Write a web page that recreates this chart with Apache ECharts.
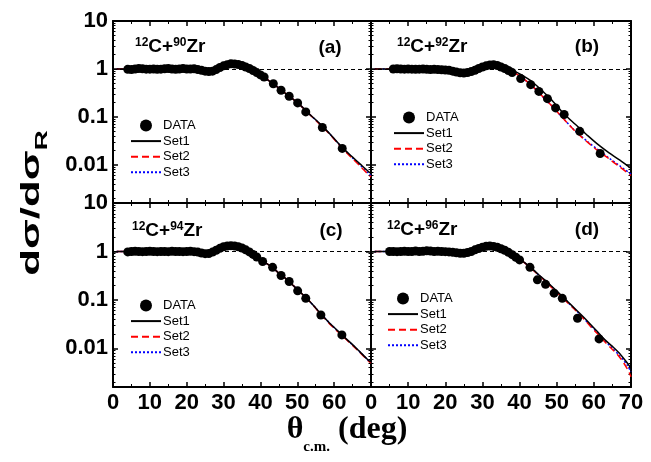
<!DOCTYPE html>
<html>
<head>
<meta charset="utf-8">
<script src="https://cdn.jsdelivr.net/npm/echarts@6/dist/echarts.min.js"></script>
<style>
html,body{margin:0;padding:0;background:#fff}
#main{width:651px;height:462px}
</style>
</head>
<body>
<div id="main"></div>
<script>
var chart = echarts.init(document.getElementById('main'));

var seriesNames = ['DATA', 'Set1', 'Set2', 'Set3'];
var panelLabels = ['(a)', '(b)', '(c)', '(d)'];
var targets = ['90', '92', '94', '96'];
var xTicks = [0, 10, 20, 30, 40, 50, 60, 70];
var yTicks = [0.01, 0.1, 1, 10];

// panel (a) 12C+90Zr
var data_a = [[4,0.98],[5,0.97],[6,1.0],[7,1.02],[8,1.01],[9,0.99],[10,0.99],[11,1.0],[12,0.98],[13,0.99],[14,1.01],[15,1.02],[16,1.0],[17,0.98],[18,1.0],[19,1.02],[20,1.0],[21,1.0],[22,1.01],[23,0.97],[24,0.94],[25,0.9],[26,0.88],[27,0.9],[28,0.97],[29,1.07],[30,1.16],[31,1.23],[32,1.28],[33,1.27],[34,1.24],[35,1.18],[36,1.1],[37,1.02],[38,0.93],[39,0.84],[40,0.75],[41,0.68],[43.5,0.49],[45.6,0.36],[47.8,0.27],[50.1,0.196],[52.3,0.127],[56.8,0.06],[62.2,0.022]];
var set1_a = [[1,1.0],[5,1.0],[10,0.99],[15,1.0],[20,1.0],[23,0.97],[25,0.91],[27,0.88],[29,1.03],[31,1.22],[33,1.28],[35,1.19],[37,1.02],[39,0.85],[41,0.67],[43,0.52],[45,0.4],[47,0.3],[49,0.23],[51,0.17],[53,0.12],[55,0.087],[57,0.062],[59,0.043],[61,0.029],[63,0.02],[65,0.0145],[67,0.0105],[69,0.0076],[70,0.0066]];
var set2_a = [[1,1.0],[5,1.0],[10,0.99],[15,1.0],[20,1.0],[23,0.97],[25,0.91],[27,0.88],[29,1.03],[31,1.22],[33,1.28],[35,1.19],[37,1.02],[39,0.85],[41,0.67],[43,0.52],[45,0.4],[47,0.3],[49,0.23],[51,0.17],[53,0.12],[55,0.085],[57,0.06],[59,0.042],[61,0.028],[63,0.019],[65,0.0135],[67,0.0095],[69,0.0066],[70,0.0056]];
var set3_a = [[1,1.0],[5,1.0],[10,0.99],[15,1.0],[20,1.0],[23,0.97],[25,0.91],[27,0.88],[29,1.03],[31,1.22],[33,1.28],[35,1.19],[37,1.02],[39,0.85],[41,0.67],[43,0.52],[45,0.4],[47,0.3],[49,0.23],[51,0.17],[53,0.12],[55,0.086],[57,0.061],[59,0.0425],[61,0.0285],[63,0.0195],[65,0.014],[67,0.01],[69,0.007],[70,0.006]];

// panel (b) 12C+92Zr
var data_b = [[6,1.0],[7,1.01],[8,1.0],[9,0.99],[10,1.0],[11,0.99],[12,0.98],[13,0.99],[14,1.0],[15,0.98],[16,0.97],[17,0.98],[18,0.97],[19,0.96],[20,0.95],[21,0.94],[22,0.9],[23,0.86],[24,0.83],[25,0.82],[26,0.84],[27,0.88],[28,0.94],[29,1.02],[30,1.1],[31,1.16],[32,1.21],[33,1.22],[34,1.18],[35,1.1],[36,1.02],[37,0.93],[38,0.84],[40.3,0.63],[43,0.47],[45.2,0.34],[47.5,0.24],[49.7,0.154],[52,0.112],[56.2,0.05],[61.7,0.0172]];
var set1_b = [[1,1.0],[5,1.0],[10,1.0],[15,0.98],[18,0.96],[21,0.92],[23,0.86],[25,0.82],[27,0.87],[29,1.0],[31,1.18],[33,1.27],[35,1.2],[37,1.03],[39,0.87],[41,0.72],[43,0.57],[45,0.42],[47,0.3],[49,0.21],[52,0.115],[55,0.07],[58,0.043],[61,0.027],[64,0.018],[67,0.0125],[70,0.0084]];
var set2_b = [[1,1.0],[5,1.0],[10,1.0],[15,0.98],[18,0.96],[21,0.92],[23,0.86],[25,0.82],[27,0.87],[29,1.0],[31,1.17],[33,1.24],[35,1.17],[37,0.98],[39,0.8],[41,0.63],[43,0.47],[45,0.33],[47,0.23],[49,0.16],[52,0.088],[55,0.05],[58,0.031],[61,0.02],[64,0.0135],[67,0.009],[70,0.006]];
var set3_b = [[1,1.0],[5,1.0],[10,1.0],[15,0.98],[18,0.96],[21,0.92],[23,0.86],[25,0.82],[27,0.87],[29,1.0],[31,1.17],[33,1.24],[35,1.17],[37,0.98],[39,0.8],[41,0.63],[43,0.47],[45,0.33],[47,0.23],[49,0.16],[52,0.089],[55,0.051],[58,0.032],[61,0.021],[64,0.014],[67,0.0095],[70,0.0064]];

// panel (c) 12C+94Zr
var data_c = [[4,0.98],[5,1.0],[6,1.01],[7,1.0],[8,0.99],[9,1.0],[10,1.01],[11,1.0],[12,0.99],[13,1.0],[14,1.0],[15,0.99],[16,1.01],[17,1.0],[18,1.0],[19,0.99],[20,1.0],[21,1.01],[22,0.99],[23,0.97],[24,0.93],[25,0.9],[26,0.91],[27,0.97],[28,1.06],[29,1.16],[30,1.25],[31,1.3],[32,1.32],[33,1.3],[34,1.25],[35,1.18],[36,1.08],[37,0.98],[38,0.87],[39,0.77],[40.6,0.62],[43.3,0.47],[45.6,0.32],[47.8,0.24],[50.1,0.154],[52.3,0.108],[56.4,0.049],[62.1,0.019]];
var set1_c = [[1,1.0],[5,1.0],[10,1.0],[15,1.0],[20,1.0],[23,0.97],[25,0.9],[27,0.95],[29,1.15],[31,1.3],[33,1.3],[35,1.18],[37,0.99],[39,0.79],[41,0.61],[43,0.48],[45,0.36],[47,0.27],[49,0.195],[51,0.14],[53,0.1],[55,0.068],[57,0.046],[59,0.032],[61,0.023],[63,0.0165],[65,0.012],[67,0.0085],[69,0.006],[70,0.0052]];
var set2_c = [[1,1.0],[5,1.0],[10,1.0],[15,1.0],[20,1.0],[23,0.97],[25,0.9],[27,0.95],[29,1.15],[31,1.3],[33,1.3],[35,1.18],[37,0.99],[39,0.79],[41,0.61],[43,0.48],[45,0.36],[47,0.27],[49,0.195],[51,0.14],[53,0.1],[55,0.067],[57,0.045],[59,0.031],[61,0.022],[63,0.016],[65,0.0115],[67,0.0082],[69,0.0058],[70,0.005]];
var set3_c = [[1,1.0],[5,1.0],[10,1.0],[15,1.0],[20,1.0],[23,0.97],[25,0.9],[27,0.95],[29,1.15],[31,1.3],[33,1.3],[35,1.18],[37,0.99],[39,0.79],[41,0.61],[43,0.48],[45,0.36],[47,0.27],[49,0.195],[51,0.14],[53,0.1],[55,0.068],[57,0.046],[59,0.032],[61,0.0225],[63,0.0162],[65,0.0118],[67,0.0084],[69,0.0059],[70,0.0051]];

// panel (d) 12C+96Zr
var data_d = [[5,1.0],[6,1.0],[7,0.99],[8,1.0],[9,1.01],[10,1.0],[11,1.0],[12,1.02],[13,1.0],[14,1.01],[15,1.03],[16,1.02],[17,1.0],[18,1.01],[19,1.0],[20,0.99],[21,0.98],[22,0.96],[23,0.94],[24,0.92],[25,0.92],[26,0.95],[27,1.0],[28,1.08],[29,1.15],[30,1.22],[31,1.28],[32,1.3],[33,1.27],[34,1.22],[35,1.14],[36,1.06],[37,0.96],[38,0.86],[39,0.76],[40,0.67],[42.8,0.47],[44.8,0.26],[47,0.21],[49.3,0.138],[51.5,0.108],[55.6,0.042],[61.4,0.0157]];
var set1_d = [[1,1.0],[5,1.0],[10,1.0],[15,1.01],[20,0.99],[23,0.95],[25,0.92],[27,0.99],[29,1.15],[31,1.3],[33,1.3],[35,1.17],[37,0.98],[39,0.79],[41,0.62],[43,0.47],[45,0.34],[47,0.25],[49,0.18],[51,0.13],[53,0.092],[55,0.065],[57,0.046],[59,0.032],[61,0.022],[63,0.015],[65,0.011],[67,0.0078],[69,0.005],[70,0.0039]];
var set2_d = [[1,1.0],[5,1.0],[10,1.0],[15,1.01],[20,0.99],[23,0.95],[25,0.92],[27,0.99],[29,1.15],[31,1.3],[33,1.3],[35,1.17],[37,0.98],[39,0.79],[41,0.61],[43,0.46],[45,0.33],[47,0.24],[49,0.17],[51,0.122],[53,0.087],[55,0.062],[57,0.043],[59,0.029],[61,0.02],[63,0.0135],[65,0.0095],[67,0.0065],[69,0.0038],[70,0.0026]];
var set3_d = [[1,1.0],[5,1.0],[10,1.0],[15,1.01],[20,0.99],[23,0.95],[25,0.92],[27,0.99],[29,1.15],[31,1.3],[33,1.3],[35,1.17],[37,0.98],[39,0.79],[41,0.61],[43,0.465],[45,0.335],[47,0.245],[49,0.175],[51,0.125],[53,0.089],[55,0.063],[57,0.044],[59,0.03],[61,0.021],[63,0.0145],[65,0.01],[67,0.007],[69,0.0045],[70,0.0033]];

var panels = [
  [data_a, set1_a, set2_a, set3_a],
  [data_b, set1_b, set2_b, set3_b],
  [data_c, set1_c, set2_c, set3_c],
  [data_d, set1_d, set2_d, set3_d]
];

var grids = [
  {left: 113, top: 21, width: 258, height: 182},
  {left: 371, top: 21, width: 260, height: 182},
  {left: 113, top: 203, width: 258, height: 184},
  {left: 371, top: 203, width: 260, height: 184}
];
var legendPos = [[130, 119], [393, 111], [130, 299], [387, 292]];
var titlePos = [[135, 56], [397, 56], [132, 240], [387, 239]];
var labelPos = [[330, 48], [587, 47], [331, 231], [587, 230]];

var lineColors = ['#000', '#000', '#ff0000', '#0000ff'];
var lineTypes = ['solid', 'solid', [7, 4], [2, 2]];
var tickFont = {color: '#000', fontFamily: 'Arial', fontWeight: 'bold', fontSize: 22};

function makeX(i, pos, showLabel) {
  return {
    type: 'value', gridIndex: i, position: pos, min: 0, max: 70, interval: 10,
    axisLine: {show: true, onZero: false, lineStyle: {color: '#000', width: 2}},
    axisTick: {show: true, inside: true, length: 5, lineStyle: {color: '#000', width: 1.5}},
    minorTick: {show: true, splitNumber: 2, length: 3, lineStyle: {color: '#000', width: 1}},
    splitLine: {show: false},
    axisLabel: Object.assign({
      show: showLabel, margin: 5,
      formatter: function (v) {
        if (i === 2 && v === 70) return '';
        return xTicks.indexOf(v) >= 0 ? String(v) : '';
      }
    }, tickFont)
  };
}

function makeY(i, pos, showLabel) {
  return {
    type: 'log', logBase: 10, gridIndex: i, position: pos, min: 0.0016, max: 10,
    axisLine: {show: true, onZero: false, lineStyle: {color: '#000', width: 2}},
    axisTick: {show: true, inside: true, length: 5, lineStyle: {color: '#000', width: 1.5}},
    minorTick: {show: true, splitNumber: 9, length: 2.5, lineStyle: {color: '#000', width: 1}},
    splitLine: {show: false},
    axisLabel: Object.assign({
      show: showLabel, margin: 5, showMinLabel: false,
      formatter: function (v) {
        for (var k = 0; k < yTicks.length; k++) {
          if (Math.abs(v - yTicks[k]) / yTicks[k] < 1e-6) return String(yTicks[k]);
        }
        return '';
      }
    }, tickFont)
  };
}

var xAxes = [], yAxes = [], series = [], legends = [], graphics = [];

for (var i = 0; i < 4; i++) {
  var bottomRow = i >= 2, leftCol = i % 2 === 0;
  xAxes.push(makeX(i, 'bottom', bottomRow));
  xAxes.push(makeX(i, 'top', false));
  yAxes.push(makeY(i, 'left', leftCol));
  yAxes.push(makeY(i, 'right', false));

  for (var s = 0; s < 4; s++) {
    if (s === 0) {
      series.push({
        name: seriesNames[0], type: 'scatter', xAxisIndex: 2 * i, yAxisIndex: 2 * i,
        symbol: 'circle', symbolSize: 9, z: 5,
        itemStyle: {color: '#000', opacity: 1},
        data: panels[i][0]
      });
    } else {
      var ser = {
        name: seriesNames[s], type: 'line', xAxisIndex: 2 * i, yAxisIndex: 2 * i,
        symbol: 'none', showSymbol: false, smooth: 0.3, z: 4 - s,
        lineStyle: {color: lineColors[s], width: 1.5, type: lineTypes[s]},
        itemStyle: {color: lineColors[s]},
        data: panels[i][s]
      };
      if (s === 1) {
        ser.markLine = {
          silent: true, symbol: 'none', label: {show: false},
          lineStyle: {color: '#000', type: [4, 3], width: 1},
          data: [{yAxis: 1}]
        };
      }
      series.push(ser);
    }
  }

  legends.push({
    left: legendPos[i][0], top: legendPos[i][1], orient: 'vertical', padding: 0,
    itemGap: 2.6, itemWidth: 30, itemHeight: 12, selectedMode: false,
    textStyle: {fontFamily: 'Arial', fontSize: 13, color: '#000', padding: [0, 0, 0, -3]},
    data: seriesNames.map(function (n, k) {
      return k === 0 ? {name: n, itemStyle: {opacity: 1}} : {name: n, itemStyle: {opacity: 0}};
    })
  });

  graphics.push({
    type: 'text', x: titlePos[i][0], y: titlePos[i][1], silent: true,
    style: {
      text: '{sup|12}{main|C+}{sup|' + targets[i] + '}{main|Zr}',
      verticalAlign: 'bottom',
      rich: {
        sup: {fontFamily: 'Arial', fontWeight: 'bold', fontSize: 12, verticalAlign: 'top', fill: '#000'},
        main: {fontFamily: 'Arial', fontWeight: 'bold', fontSize: 19, verticalAlign: 'bottom', fill: '#000'}
      }
    }
  });
  graphics.push({
    type: 'text', x: labelPos[i][0], y: labelPos[i][1], silent: true,
    style: {text: panelLabels[i], align: 'center', verticalAlign: 'middle',
      font: 'bold 19px Arial', fill: '#000'}
  });
}

// axis names
graphics.push({
  type: 'text', x: 32, y: 203, rotation: Math.PI / 2, scaleX: 1.75, silent: true,
  style: {
    text: '{m|d\u03c3/d\u03c3}{s|R}', align: 'center', verticalAlign: 'middle',
    rich: {
      m: {fontFamily: 'Arial', fontWeight: 'bold', fontSize: 25, fill: '#000', verticalAlign: 'bottom'},
      s: {fontFamily: 'Arial', fontWeight: 'bold', fontSize: 16, fill: '#000', verticalAlign: 'bottom', padding: [0, 0, -6, 0]}
    }
  }
});
graphics.push({
  type: 'text', x: 347, y: 430, silent: true,
  style: {
    text: '{m|\u03b8}{s|c.m.}{m| (deg)}', align: 'center', verticalAlign: 'middle',
    rich: {
      m: {fontFamily: 'Liberation Serif', fontWeight: 'bold', fontSize: 32, fill: '#000', verticalAlign: 'bottom'},
      s: {fontFamily: 'Liberation Serif', fontWeight: 'bold', fontSize: 15, fill: '#000', verticalAlign: 'bottom', padding: [0, 0, -9, 0]}
    }
  }
});

var option = {
  animation: false,
  backgroundColor: '#fff',
  grid: grids,
  xAxis: xAxes,
  yAxis: yAxes,
  legend: legends,
  series: series,
  graphic: graphics
};
chart.setOption(option);
</script>
</body>
</html>
